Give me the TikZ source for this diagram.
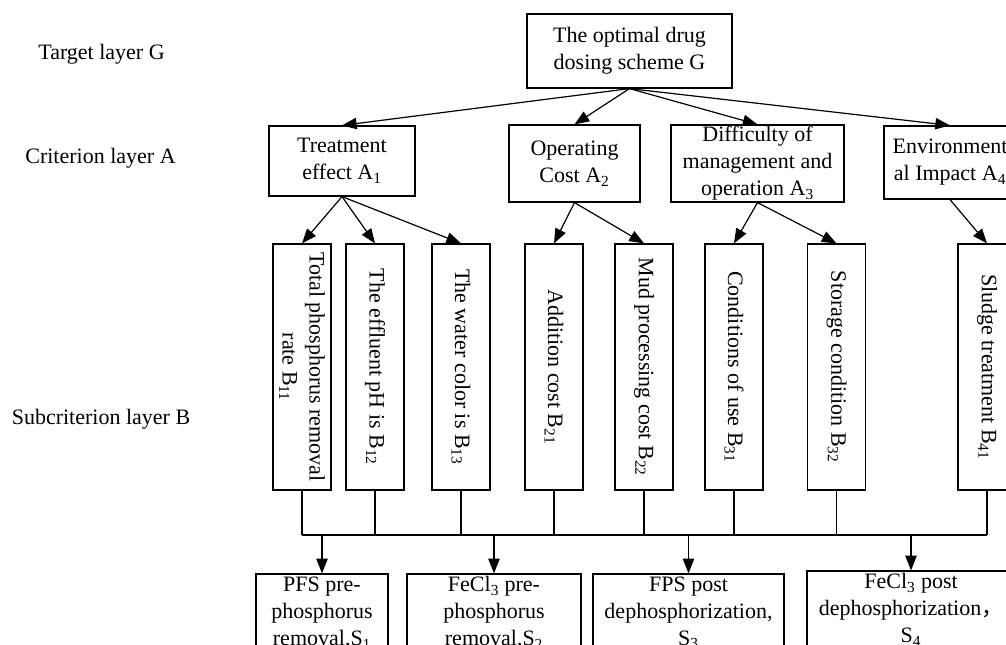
\documentclass[tikz,border=0pt]{standalone}
\usepackage{fontspec}
\setmainfont{Liberation Serif}
\newfontfamily\cjkfont{Noto Sans CJK SC}
\usepackage{tikz}
\usetikzlibrary{arrows.meta}
\newcommand{\layfont}{\fontsize{16.5}{20.25}\selectfont}

\begin{document}
\begin{tikzpicture}[x=0.75pt,y=0.75pt,yscale=-1,xscale=1,
    box/.style={draw, line width=0.9pt, inner sep=0pt, align=center, font=\layfont},
    boxv/.style={box, rotate=-90, minimum width=184.5pt, minimum height=43.5pt},
    arr/.style={line width=0.9pt, -{Triangle[length=11pt,width=8.5pt]}},
    link/.style={line width=0.9pt}]
    \useasboundingbox (0,0) rectangle (1006,644);
    \clip (0,0) rectangle (1006,644);

    % Text Node
    \node [font=\layfont] (lg) at (101.5,54) {Target layer G};
    % Text Node
    \node [font=\layfont] (la) at (100.5,158) {Criterion layer A};
    % Text Node
    \node [font=\layfont] (lb) at (101,419) {Subcriterion layer B};

    % Target
    \node [box, minimum width=153.75pt, minimum height=55.5pt] (g) at (629.5,51) {The optimal drug\\dosing scheme G};

    % Criteria
    \node [box, minimum width=109.5pt, minimum height=52.5pt] (a1) at (342,161) {Treatment\\effect A\textsubscript{1}};
    \node [box, minimum width=98.25pt, minimum height=57.75pt] (a2) at (574.5,163.5) {Operating\\Cost A\textsubscript{2}};
    \node [box, minimum width=129.75pt, minimum height=57.75pt] (a3) at (757.5,163.5) {Difficulty of\\management and\\operation A\textsubscript{3}};
    \node [box, minimum width=99pt, minimum height=54.75pt] (a4) at (950,162.5) {Environment\\al Impact A\textsubscript{4}};

    % Subcriteria
    \node [boxv] (b11) at (302,367) {Total phosphorus removal\\rate B\textsubscript{11}};
    \node [boxv] (b12) at (375,367) {The effluent pH is B\textsubscript{12}};
    \node [boxv] (b13) at (461,367) {The water color is B\textsubscript{13}};
    \node [boxv] (b21) at (554,367) {Addition cost B\textsubscript{21}};
    \node [boxv] (b22) at (644,367) {Mud processing cost B\textsubscript{22}};
    \node [boxv] (b31) at (734,367) {Conditions of use B\textsubscript{31}};
    \node [boxv] (b32) at (836.5,367) {Storage condition B\textsubscript{32}};
    \node [boxv] (b41) at (987,367) {Sludge treatment B\textsubscript{41}};

    % Schemes
    \node [box, minimum width=99pt, minimum height=58.5pt] (s1) at (322,613) {PFS pre-\\phosphorus\\removal,S\textsubscript{1}};
    \node [box, minimum width=130.5pt, minimum height=58.5pt] (s2) at (494,613) {FeCl\textsubscript{3} pre-\\phosphorus\\removal,S\textsubscript{2}};
    \node [box, minimum width=143.25pt, minimum height=58.5pt] (s3) at (688.5,613) {FPS post\\dephosphorization,\\S\textsubscript{3}};
    \node [box, minimum width=156pt, minimum height=58.5pt] (s4) at (911,610) {FeCl\textsubscript{3} post\\dephosphorization{\cjkfont ，}\\S\textsubscript{4}};

    % G to A
    \foreach \a in {a1,a2,a3,a4}
        \draw [arr] (g.south) -- (\a.north);

    % A to B
    \draw [arr] (a1.south) -- (b11.west);
    \draw [arr] (a1.south) -- (b12.west);
    \draw [arr] (a1.south) -- (b13.west);
    \draw [arr] (a2.south) -- (b21.west);
    \draw [arr] (a2.south) -- (b22.west);
    \draw [arr] (a3.south) -- (b31.west);
    \draw [arr] (a3.south) -- (b32.west);
    \draw [arr] (a4.south) -- (b41.west);

    % B to S
    \coordinate (bus) at (0,535);
    \foreach \b in {b11,b12,b13,b21,b22,b31,b32,b41}
        \draw [link] (\b.east) -- (\b.east |- bus);
    \draw [link] (b11.east |- bus) -- (b41.east |- bus);
    \foreach \s in {s1,s2,s3,s4}
        \draw [arr] (\s.north |- bus) -- (\s.north);

\end{tikzpicture}
\end{document}
